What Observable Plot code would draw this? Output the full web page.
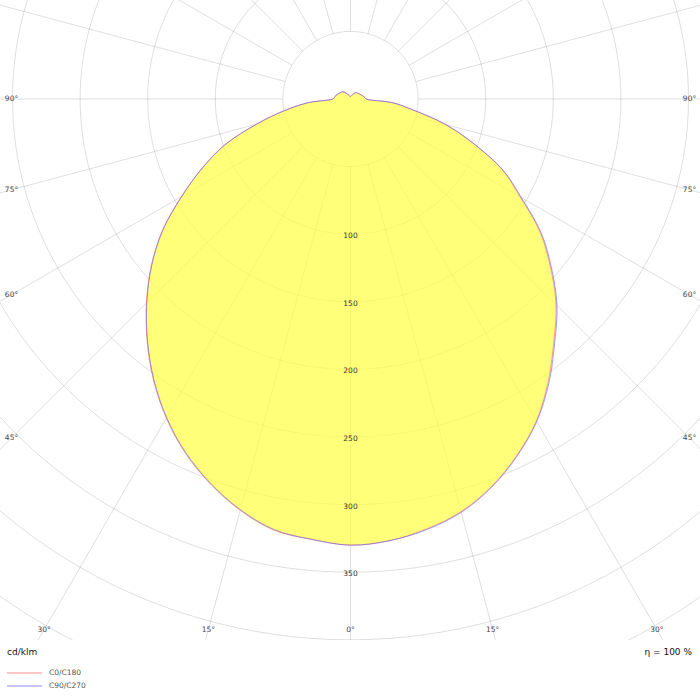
<!DOCTYPE html>
<html>
<head>
<meta charset="utf-8">
<script src="https://cdn.jsdelivr.net/npm/d3@7"></script>
<script src="https://cdn.jsdelivr.net/npm/@observablehq/plot@0.6"></script>
<style>
  body { margin: 0; background: #fff; font-family: "DejaVu Sans", sans-serif; }
  #below { position: relative; width: 700px; height: 60px; }
</style>
</head>
<body>
<div id="chart"></div>
<div id="below"></div>
<script>
// ---- data (cd/klm) ----
const gamma = [0,5,10,15,20,25,30,35,40,45,50,55,60,65,70,75,80,85,90,
               95,100,105,110,115,120,125,130,135,140,145,150,155,160,165,170,175,180];
// C0 plane (right half) and C180 plane (left half)
const c0   = [330,328,323,316,305,291,275,255,234,215,193,171,145,124,97,72.5,47,31,11.5,
              10.8,10,9.3,8.6,8,7.5,7.1,6.8,6.6,6.2,5.4,4.5,3.6,2.9,2.4,2.1,2,2];
const c180 = [330,327,324,315,303,289,272.5,254,234,213.5,192.5,170,144.5,121,99,72,50,31.5,13,
              12,11.5,11,10.2,9.6,9,8.6,8.3,7.6,6.2,5,4,3.2,2.6,2.2,2,2,2];
// C90 plane (right half) and C270 plane (left half)
const c90  = [330,328,323.5,316.5,305.5,291.5,275.5,256,235,216,194,172,146,124.5,97.5,73,47.5,31,11.5,
              10.8,10,9.3,8.6,8,7.5,7.1,6.8,6.6,6.2,5.4,4.5,3.6,2.9,2.4,2.1,2,2];
const c270 = [330,327,323.5,314.5,302.5,288.5,272,253.5,233.5,213,192,169.5,144,121,98.5,72,49.5,31.5,13,
              12,11.5,11,10.2,9.6,9,8.6,8.3,7.6,6.2,5,4,3.2,2.6,2.2,2,2,2];
const seriesNames  = ["C0/C180", "C90/C270"];
const seriesColors = ["#ff6060", "#6060ff"];
const legendColors = ["#ffc4c4", "#c4c4ff"];

const ringValues  = [50,100,150,200,250,300,350,400,450,500,550,600];
const ringLabels  = [100,150,200,250,300,350];
const spokeAngles = [0,15,30,45,60,75,90,105,120,135,150,165,180,195,210,225,240,255,270,285,300,315,330,345];
const sideAngles  = [45,60,75,90];
const bottomAngles = [0,15,30];
const unitLabel = "cd/klm";
const efficiency = "η = 100 %";

// ---- layout ----
const W = 700, H = 640, cx = 350, cy = 98.5, k = 1.352;
const rad = d => d * Math.PI / 180;

function outline(right, left) {
  const pts = [];
  gamma.forEach((g, i) => pts.push({x: right[i] * Math.sin(rad(g)), y: -right[i] * Math.cos(rad(g))}));
  for (let i = gamma.length - 2; i > 0; i--) {
    const g = gamma[i];
    pts.push({x: -left[i] * Math.sin(rad(g)), y: -left[i] * Math.cos(rad(g))});
  }
  return pts;
}
const curveA = outline(c0, c180);
const curveB = outline(c90, c270);

const ringPts = [];
ringValues.forEach(v => {
  for (let a = 0; a < 360; a += 2) ringPts.push({v, x: v * Math.sin(rad(a)), y: -v * Math.cos(rad(a))});
});
const spokes = spokeAngles.map(a => ({a}));

const angleLabels = [];
sideAngles.forEach(a => {
  [ (11 - cx) / k, (689 - cx) / k ].forEach(X => {
    const t = Math.abs(X) / Math.sin(rad(a));
    angleLabels.push({x: X, y: -t * Math.cos(rad(a)), text: a + "°"});
  });
});
bottomAngles.forEach(a => {
  const Y = (629 - cy) / k;
  const t = Y / Math.cos(rad(a));
  const xs = a === 0 ? [0] : [-t * Math.sin(rad(a)), t * Math.sin(rad(a))];
  xs.forEach(x => angleLabels.push({x, y: -Y, text: a + "°"}));
});

const gridStyle = {stroke: "#000", strokeOpacity: 0.13, strokeWidth: 1, clip: true};

const chart = Plot.plot({
  width: W, height: H, margin: 0,
  x: {domain: [-cx / k, (W - cx) / k], axis: null},
  y: {domain: [-(H - cy) / k, cy / k], axis: null},
  style: {background: "#fff", fontFamily: "DejaVu Sans, sans-serif"},
  marks: [
    Plot.line(ringPts, {x: "x", y: "y", z: "v", curve: "linear-closed", ...gridStyle}),
    Plot.link(spokes, {
      x1: d => 50 * Math.sin(rad(d.a)), y1: d => -50 * Math.cos(rad(d.a)),
      x2: d => 700 * Math.sin(rad(d.a)), y2: d => -700 * Math.cos(rad(d.a)),
      ...gridStyle
    }),
    Plot.line(curveA, {x: "x", y: "y", curve: "catmull-rom-closed", fill: "#ffff41", fillOpacity: 0.7, stroke: "none"}),
    Plot.line(curveA, {x: "x", y: "y", curve: "catmull-rom-closed", stroke: seriesColors[0], strokeOpacity: 0.6, strokeWidth: 1}),
    Plot.line(curveB, {x: "x", y: "y", curve: "catmull-rom-closed", stroke: seriesColors[1], strokeOpacity: 0.6, strokeWidth: 1}),
    Plot.text(ringLabels, {x: 0, y: d => -d, text: d => String(d), dy: 1.5, fontSize: 7.5, fill: "#333"}),
    Plot.text(angleLabels, {x: "x", y: "y", text: "text", fontSize: 7.5, fill: "#444"})
  ]
});
document.getElementById("chart").appendChild(chart);

// ---- below: unit, efficiency, legend ----
const below = d3.select("#below");
const svg = below.append("svg").attr("width", 700).attr("height", 60)
  .style("font-family", "DejaVu Sans, sans-serif");
svg.append("text").attr("x", 7).attr("y", 12).attr("dominant-baseline", "middle")
  .attr("font-size", 9).attr("fill", "#111").text(unitLabel);
svg.append("text").attr("x", 692).attr("y", 12).attr("dominant-baseline", "middle")
  .attr("text-anchor", "end").attr("font-size", 9).attr("fill", "#111").text(efficiency);
seriesNames.forEach((name, i) => {
  const y = 33 + i * 13;
  svg.append("line").attr("x1", 7).attr("x2", 42).attr("y1", y).attr("y2", y)
    .attr("stroke", legendColors[i]).attr("stroke-width", 2);
  svg.append("text").attr("x", 49).attr("y", y).attr("dominant-baseline", "middle")
    .attr("font-size", 7.5).attr("fill", "#555").text(name);
});
</script>
</body>
</html>
